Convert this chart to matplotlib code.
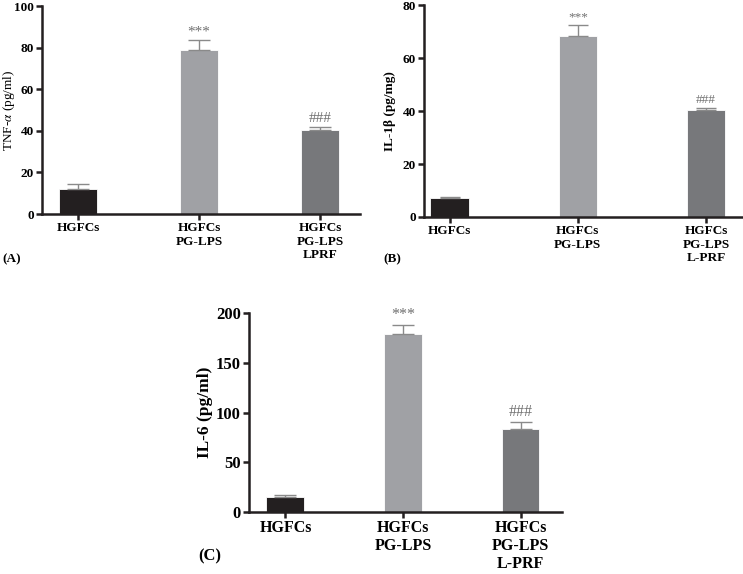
import matplotlib
matplotlib.use("Agg")
import matplotlib.pyplot as plt

plt.rcParams['font.family'] = ['Liberation Serif', 'DejaVu Serif']
plt.rcParams['mathtext.fontset'] = 'stix'

categories_ab = ["HGFCs", "HGFCs\nPG-LPS", "HGFCs\nPG-LPS\nLPRF"]
categories_b = ["HGFCs", "HGFCs\nPG-LPS", "HGFCs\nPG-LPS\nL-PRF"]
categories_c = ["HGFCs", "HGFCs\nPG-LPS", "HGFCs\nPG-LPS\nL-PRF"]

tnf_vals = [12.2, 79.0, 40.2]
tnf_err = [2.4, 4.5, 1.5]
il1b_vals = [7.0, 68.5, 40.5]
il1b_err = [0.5, 4.0, 0.8]
il6_vals = [15.5, 179.0, 83.0]
il6_err = [1.5, 9.0, 7.0]
annotations = ["", "***", "###"]

colors = ["#231f20", "#a0a1a5", "#77787b"]
err_color = "#8a8a8a"

fig = plt.figure(figsize=(7.43, 5.74), dpi=100)

panels = [
    dict(rect=[0.0565, 0.627, 0.428, 0.3624], vals=tnf_vals, err=tnf_err, cats=categories_ab,
         ylim=(0, 100), yticks=[0, 20, 40, 60, 80, 100], ylabel=r'TNF-$\alpha$ (pg/ml)', ylw='normal',
         xlim=(-0.298, 2.33), width=0.314, fs=9.5, lfs=9.5, tag="(A)", tagpos=(0.003, 0.548),
         afs=11, ylfs=9.5, lx=-0.078),
    dict(rect=[0.5707, 0.622, 0.428, 0.369], vals=il1b_vals, err=il1b_err, cats=categories_b,
         ylim=(0, 80), yticks=[0, 20, 40, 60, 80], ylabel='IL-1β (pg/mg)', ylw='bold',
         xlim=(-0.199, 2.28), width=0.30, fs=9.5, lfs=9.5, tag="(B)", tagpos=(0.516, 0.548),
         afs=9.5, ylfs=9.5, lx=-0.088),
    dict(rect=[0.3351, 0.108, 0.4213, 0.3467], vals=il6_vals, err=il6_err, cats=categories_c,
         ylim=(0, 200), yticks=[0, 50, 100, 150, 200], ylabel='IL-6 (pg/ml)', ylw='bold',
         xlim=(-0.31, 2.353), width=0.323, fs=12, lfs=11.5, tag="(C)", tagpos=(0.267, 0.03),
         afs=11.5, ylfs=12.5, lx=-0.115),
]

for p in panels:
    ax = fig.add_axes(p['rect'])
    x = list(range(len(p['vals'])))
    ax.bar(x, p['vals'], width=p['width'], color=colors, edgecolor='white', linewidth=0.6, zorder=2)
    ax.errorbar(x, p['vals'], yerr=[[0]*3, p['err']], fmt='none', ecolor=err_color,
                elinewidth=1.0, capsize=p['width']*25, capthick=1.0, zorder=3)
    span = p['ylim'][1] - p['ylim'][0]
    for xi, v, e, a in zip(x, p['vals'], p['err'], annotations):
        if a:
            ax.text(xi, v + e + span*0.01, a, ha='center', va='bottom', color='#707070',
                    fontsize=p['afs'])
    ax.set_xlim(*p['xlim'])
    ax.set_ylim(*p['ylim'])
    ax.set_yticks(p['yticks'])
    ax.set_xticks(x)
    ax.set_xticklabels(p['cats'], fontweight='bold', fontsize=p['lfs'], linespacing=1.15)
    for lab in ax.get_yticklabels():
        lab.set_fontweight('bold')
        lab.set_fontsize(p['fs'])
    ax.set_ylabel(p['ylabel'], fontweight=p['ylw'], fontsize=p['ylfs'])
    ax.yaxis.set_label_coords(p['lx'], 0.5)
    for s in ['top', 'right']:
        ax.spines[s].set_visible(False)
    for s in ['left', 'bottom']:
        ax.spines[s].set_linewidth(1.8)
        ax.spines[s].set_color('#231f20')
    ax.tick_params(axis='both', direction='out', width=1.8, length=4, color='#231f20', pad=2)
    fig.text(p['tagpos'][0], p['tagpos'][1], p['tag'], fontweight='bold', fontsize=p['fs'],
             ha='left', va='center')

fig.savefig("out.png", dpi=100)
